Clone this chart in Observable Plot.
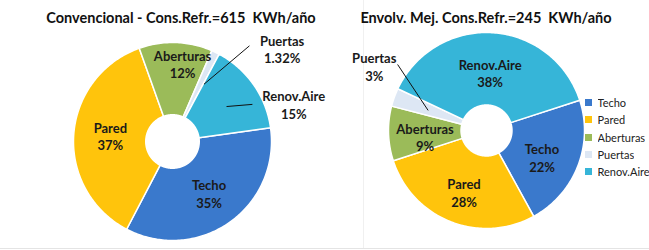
<!DOCTYPE html>
<html>
<head>
<meta charset="utf-8">
<script src="https://cdn.jsdelivr.net/npm/d3@7"></script>
<script src="https://cdn.jsdelivr.net/npm/@observablehq/plot@0.6"></script>
<style>
  html, body { margin: 0; padding: 0; background: #fff; }
  #wrap { position: relative; width: 649px; height: 250px; overflow: hidden; font-family: Lato, "Open Sans", sans-serif; }
  #left, #right { position: absolute; top: 0; }
  #left { left: 0; }
  #right { left: 325px; }
  #titles { position: absolute; left: 0; top: 0; pointer-events: none; }
  #titles text { white-space: pre; }
  #legend { position: absolute; left: 585px; top: 94px; width: 90px; }
  #legend div[class$="-swatch"] { height: 17.25px !important; padding: 0 !important; margin: 0 !important; }
  #bottomline { position: absolute; left: 0; top: 248px; width: 649px; height: 1px; background: #e4e4e4; }
  #sepline { position: absolute; left: 363px; top: 0; width: 1px; height: 248px; background: #f0f0f0; }
</style>
</head>
<body>
<div id="wrap">
  <div id="left"></div>
  <div id="sepline"></div>
  <div id="right"></div>
  <svg id="titles" width="649" height="40"></svg>
  <div id="legend"></div>
  <div id="bottomline"></div>
</div>
<script>
// ---- data ----
const categories = ["Techo", "Pared", "Aberturas", "Puertas", "Renov.Aire"];
const colors = ["#3a79cc", "#ffc40c", "#9bbb59", "#dde7f4", "#36b5d8"];
const convencionalValues = [35, 37, 12, 1.32, 15];
const convencionalLabels = ["35%", "37%", "12%", "1.32%", "15%"];
const mejoradaValues = [22, 28, 9, 3, 38];
const mejoradaLabels = ["22%", "28%", "9%", "3%", "38%"];
const titleConvencional = "Convencional - Cons.Refr.=615  KWh/año";
const titleMejorada = "Envolv. Mej. Cons.Refr.=245  KWh/año";

// ---- layout (not data) ----
const leftLayout = {
  width: 325, marginLeft: 73, marginRight: 54, marginTop: 42, marginBottom: 10,
  startAngle: 82, inner: 0.27,
  // per slice: label radius, angle offset from mid
  labels: [[0.64, 0], [0.63, 1], [0.79, 5.5], [1.45, 24], [1.28, 18]],
  leaders: [ // slice index, r1, da1, r2, da2
    [3, 0.66, 3, 1.24, 13],
    [4, 0.65, 2, 0.89, 10]
  ],
  titleX: 181
};
const rightLayout = {
  width: 324, marginLeft: 63, marginRight: 65, marginTop: 32, marginBottom: 22,
  startAngle: 72, inner: 0.26,
  labels: [[0.63, 4.4], [0.67, -1.6], [0.63, -4], [1.32, 10], [0.59, 0]],
  leaders: [
    [3, 0.63, -0.8, 1.13, 16.8]
  ],
  titleX: 486
};

const rad = Math.PI / 180;
function polar(r, deg) { return [r * Math.sin(deg * rad), r * Math.cos(deg * rad)]; }

function donut(values, pctLabels, L) {
  const total = d3.sum(values);
  let acc = L.startAngle;
  const slices = values.map((v, i) => {
    const a0 = acc, a1 = acc + 360 * v / total;
    acc = a1;
    return { name: categories[i], pct: pctLabels[i], a0, a1, mid: (a0 + a1) / 2 };
  });
  const pts = [];
  slices.forEach(s => {
    const n = Math.max(2, Math.ceil(s.a1 - s.a0));
    const ring = [];
    for (let k = 0; k <= n; k++) ring.push(polar(1, s.a0 + (s.a1 - s.a0) * k / n));
    for (let k = n; k >= 0; k--) ring.push(polar(L.inner, s.a0 + (s.a1 - s.a0) * k / n));
    ring.push(ring[0]);
    ring.forEach(([x, y]) => pts.push({ name: s.name, x, y }));
  });
  const labels = slices.map((s, i) => {
    const [r, da] = L.labels[i];
    const [x, y] = polar(r, s.mid + da);
    return { name: s.name, text: s.name + "\n" + s.pct, x, y };
  });
  const leaders = L.leaders.map(([i, r1, da1, r2, da2]) => {
    const s = slices[i];
    const [x1, y1] = polar(r1, s.mid + da1);
    const [x2, y2] = polar(r2, s.mid + da2);
    return { x1, y1, x2, y2 };
  });
  return Plot.plot({
    width: L.width, height: 250,
    marginLeft: L.marginLeft, marginRight: L.marginRight,
    marginTop: L.marginTop, marginBottom: L.marginBottom,
    x: { domain: [-1, 1], axis: null },
    y: { domain: [-1, 1], axis: null },
    color: { domain: categories, range: colors },
    style: { background: "transparent", overflow: "visible" },
    marks: [
      Plot.line(pts, { x: "x", y: "y", z: "name", fill: "name", stroke: "white", strokeWidth: 1.5, curve: "linear", strokeLinejoin: "round" }),
      Plot.link(leaders, { x1: "x1", y1: "y1", x2: "x2", y2: "y2", stroke: "#111", strokeWidth: 1 }),
      Plot.text(labels, { x: "x", y: "y", text: "text", fontSize: 13, fontWeight: "bold", fill: "#1a1a1a", fontFamily: "Lato", lineHeight: 1.35, lineAnchor: "middle" })
    ]
  });
}

document.getElementById("left").appendChild(donut(convencionalValues, convencionalLabels, leftLayout));
document.getElementById("right").appendChild(donut(mejoradaValues, mejoradaLabels, rightLayout));

const titles = d3.select("#titles");
[[titleConvencional, leftLayout.titleX], [titleMejorada, rightLayout.titleX]].forEach(([t, x]) => {
  titles.append("text").attr("x", x).attr("y", 23).attr("text-anchor", "middle")
    .attr("font-family", "Lato").attr("font-weight", "bold").attr("font-size", 14.5).attr("fill", "#111").text(t);
});

const legend = Plot.legend({
  color: { domain: categories, range: colors },
  legend: "swatches", columns: 1, swatchSize: 7,
  style: { fontFamily: "Lato", fontSize: "11px", color: "#222" }
});
document.getElementById("legend").appendChild(legend);
</script>
</body>
</html>
